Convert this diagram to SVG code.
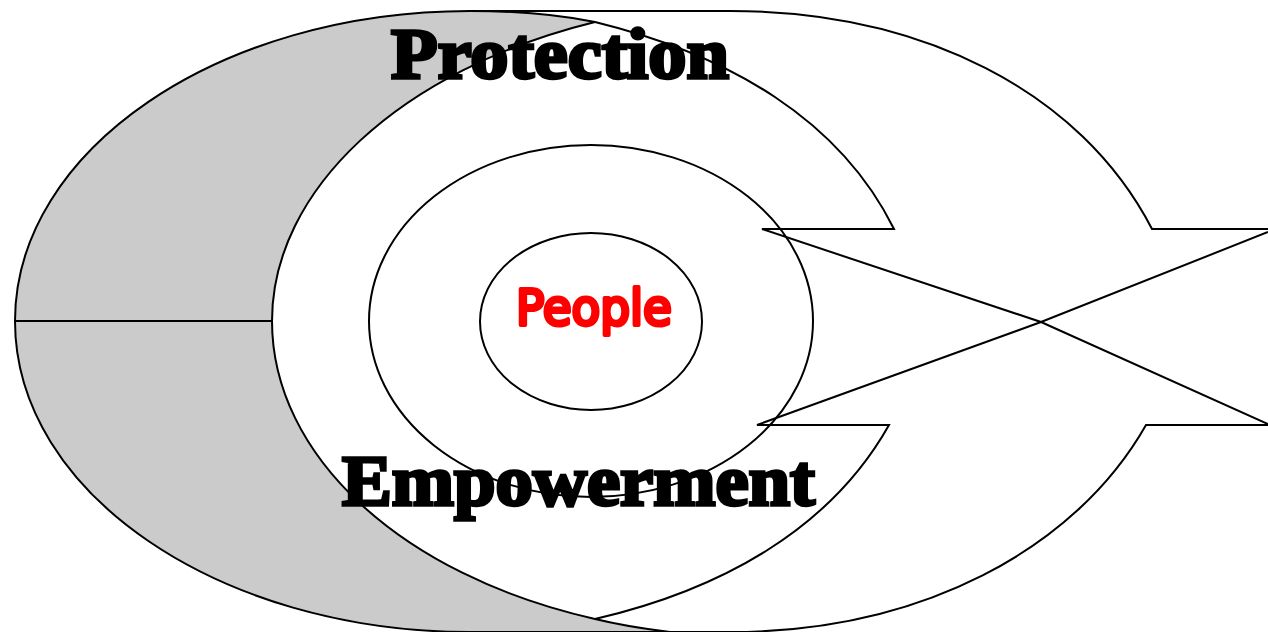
<svg xmlns="http://www.w3.org/2000/svg" width="1268" height="632" viewBox="0 0 1268 632">
<style>
.l{fill:none;stroke:#000;stroke-width:2;stroke-linejoin:miter}
.h{font-family:"Liberation Serif","DejaVu Serif",serif;font-weight:700;font-size:72px;fill:#000;stroke:#000;stroke-width:3.4;stroke-linejoin:miter}
.p{font-family:"DejaVu Sans","Noto Sans",sans-serif;font-weight:400;font-size:50px;fill:#f00;stroke:#f00;stroke-width:4;stroke-linejoin:round;stroke-linecap:round}
</style>
<rect width="1268" height="632" fill="#fff"/>
<g id="shade"><path d="M15,321 C15,150 219,11 470,11 C515,11 555,14 595,22 C400,70 272,190 272,321 C272,455 400,575 595,619 C620,625 645,629 670,632 L470,632 C219,632 15,493 15,321Z" fill="#cbcbcb"/></g>
<g id="connectors">
<path class="l" d="M15,321 C15,150 219,11 470,11 L730,11 C920,11 1080,90 1152,229 L1268,229"/>
<path class="l" d="M15,321 C15,493 219,632 470,632 L730,632 C920,632 1075,550 1146,425 L1268,425"/>
<path class="l" d="M15,321 H272"/>
<path class="l" d="M470,11 C515,11 555,14 595,22 C730,55 840,120 894,229 L762,229 L1041,322 L1268,424"/>
<path class="l" d="M272,321 C272,190 400,70 595,22"/>
<path class="l" d="M272,321 C272,455 400,575 595,619 C620,625 645,629 670,632"/>
<path class="l" d="M595,619 C720,590 830,530 889,425 L757,425 L1041,322 L1268,232"/>
</g>
<g id="middle"><ellipse class="l" cx="591" cy="321" rx="222" ry="176"/></g>
<g id="people"><ellipse class="l" cx="591" cy="321.5" rx="111" ry="88.5"/>
<text class="p" x="516" y="325" textLength="156" lengthAdjust="spacingAndGlyphs">People</text></g>
<g id="protection"><text class="h" x="391" y="78" textLength="338" lengthAdjust="spacingAndGlyphs">Protection</text></g>
<g id="empowerment"><text class="h" x="342" y="505" textLength="473" lengthAdjust="spacingAndGlyphs">Empowerment</text></g>
</svg>
